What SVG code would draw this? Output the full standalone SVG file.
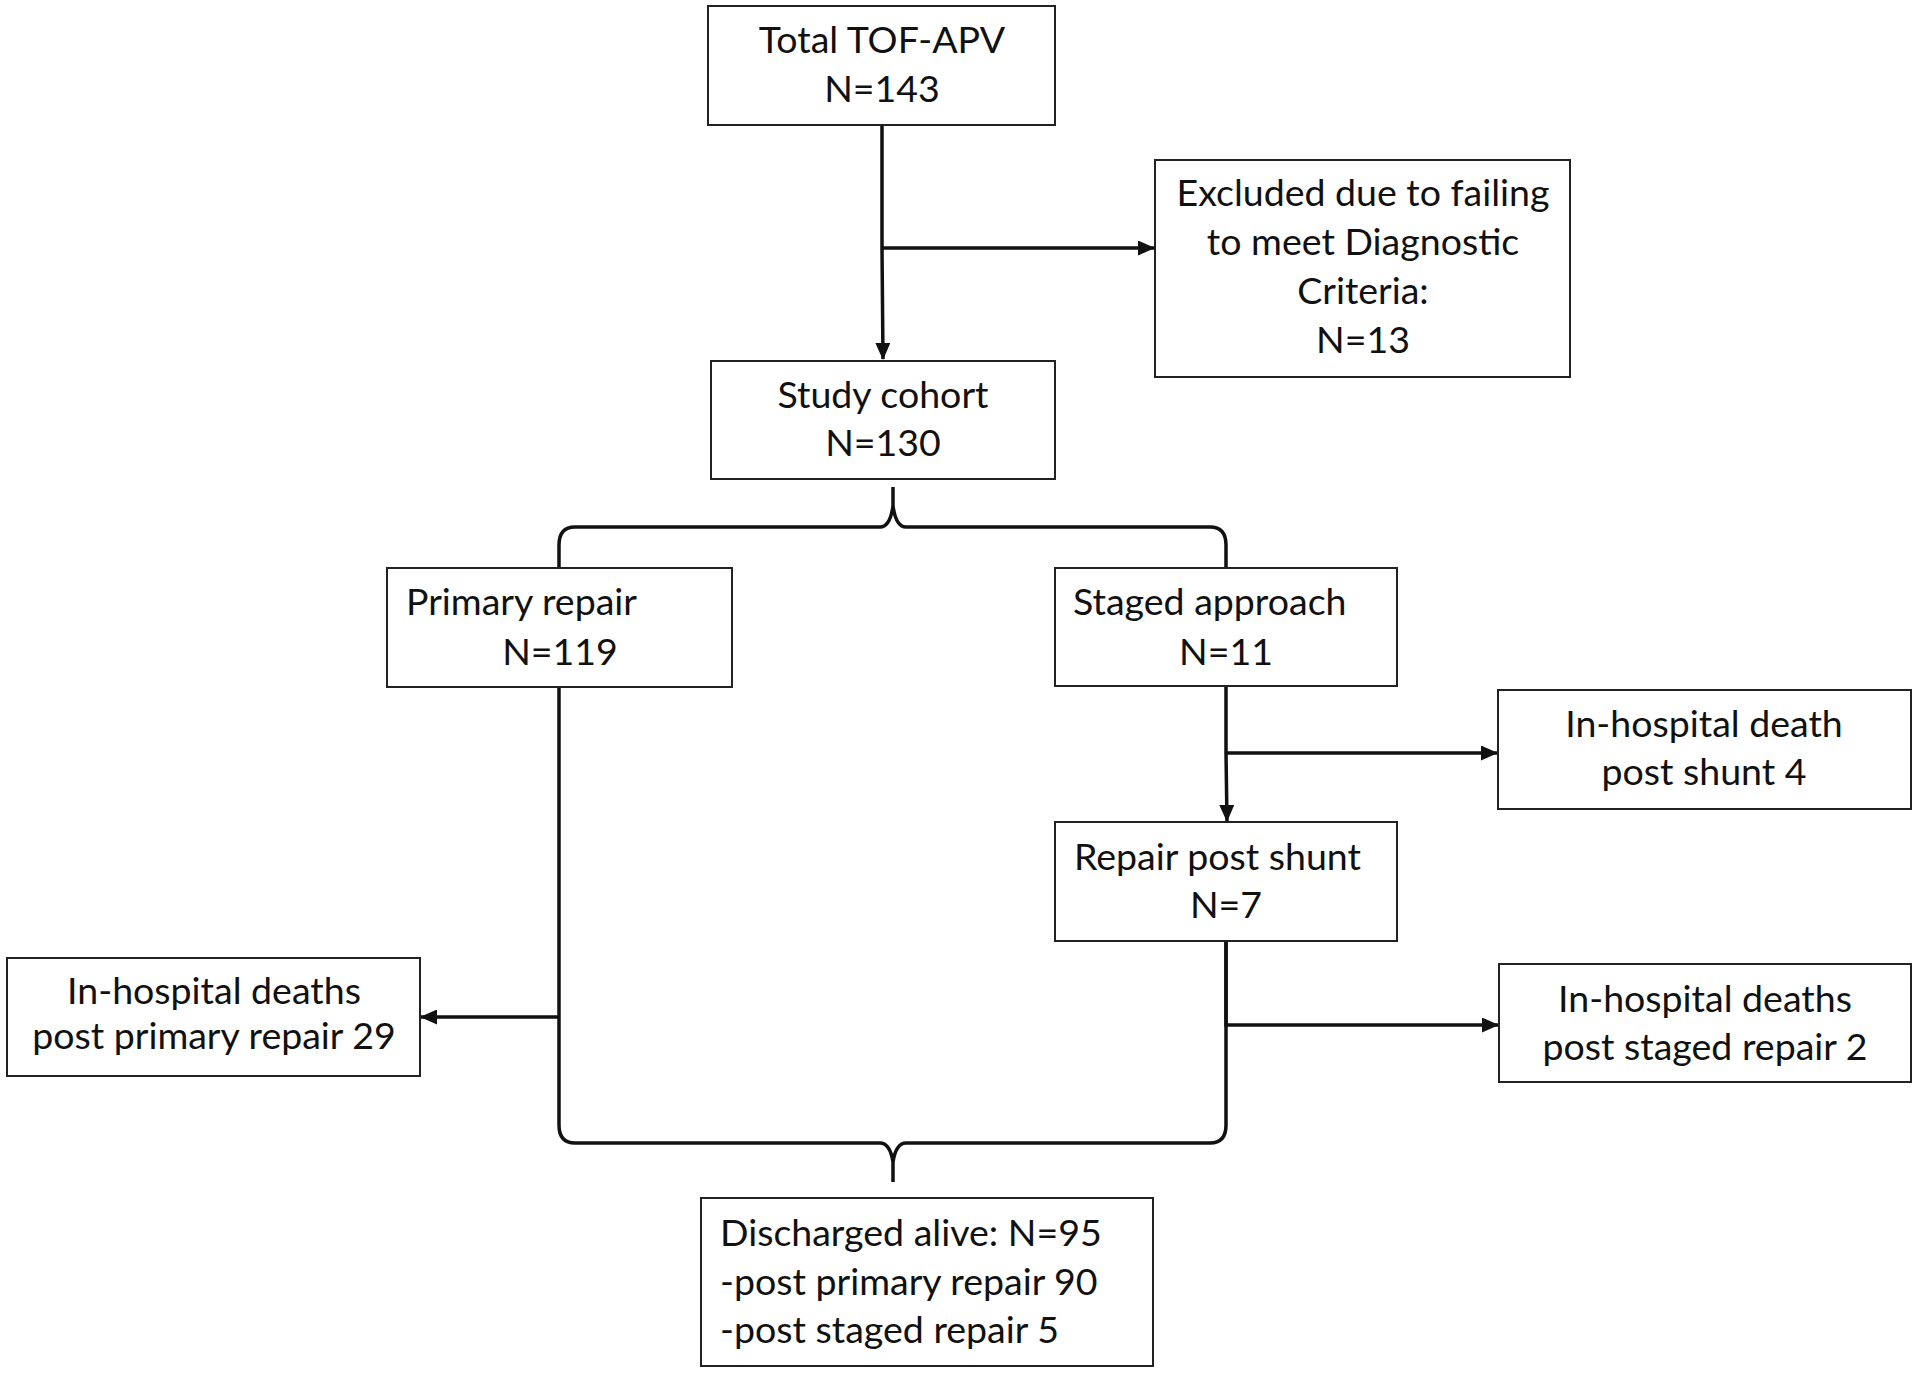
<svg xmlns="http://www.w3.org/2000/svg" width="1920" height="1374" viewBox="0 0 1920 1374">
<defs>
<style>
.box{fill:#fff;stroke:#222;stroke-width:2}
.t{font-family:Lato,"Liberation Sans",sans-serif;font-size:37.5px;fill:#111}
.c{text-anchor:middle}
.ln{fill:none;stroke:#111;stroke-width:3.5}
</style>
<marker id="ah" markerWidth="17" markerHeight="15" refX="16" refY="7.5" orient="auto" markerUnits="userSpaceOnUse">
<path d="M0,0 L17,7.5 L0,15 Z" fill="#111"/>
</marker>
</defs>
<rect width="1920" height="1374" fill="#fff"/>
<g id="connectors">
<path class="ln" d="M882,125 L882,248 L883,359" marker-end="url(#ah)"/>
<path class="ln" d="M882,248 L1154,248" marker-end="url(#ah)"/>
<path class="ln" d="M559,567 L559,545 Q559,527 575,527 L880,527 Q890,527 893,506 L893,487 M893,506 Q896,527 906,527 L1210,527 Q1226,527 1226,545 L1226,567"/>
<path class="ln" d="M1226,686 L1226,753 L1227,821" marker-end="url(#ah)"/>
<path class="ln" d="M1226,753 L1497,753" marker-end="url(#ah)"/>
<path class="ln" d="M1226,941 L1226,1025 L1498,1025" marker-end="url(#ah)"/>
<path class="ln" d="M559,1017 L421,1017" marker-end="url(#ah)"/>
<path class="ln" d="M559,687 L559,1125 Q559,1143 575,1143 L880,1143 Q890,1143 893,1162 L893,1182 M893,1162 Q896,1143 906,1143 L1210,1143 Q1226,1143 1226,1125 L1226,941"/>
</g>
<g id="total">
<rect class="box" x="708" y="6" width="347" height="119"/>
<text class="t c" x="882" y="53">Total TOF-APV</text>
<text class="t c" x="882" y="102">N=143</text>
</g>
<g id="excluded">
<rect class="box" x="1155" y="160" width="415" height="217"/>
<text class="t c" x="1363" y="206">Excluded due to failing</text>
<text class="t c" x="1363" y="255">to meet Diagnostic</text>
<text class="t c" x="1363" y="304">Criteria:</text>
<text class="t c" x="1363" y="353">N=13</text>
</g>
<g id="study">
<rect class="box" x="711" y="361" width="344" height="118"/>
<text class="t c" x="883" y="408">Study cohort</text>
<text class="t c" x="883" y="456">N=130</text>
</g>
<g id="primary">
<rect class="box" x="387" y="568" width="345" height="119"/>
<text class="t" x="406" y="615">Primary repair</text>
<text class="t c" x="560" y="665">N=119</text>
</g>
<g id="staged">
<rect class="box" x="1055" y="568" width="342" height="118"/>
<text class="t" x="1073" y="615">Staged approach</text>
<text class="t c" x="1226" y="665">N=11</text>
</g>
<g id="death-shunt">
<rect class="box" x="1498" y="690" width="413" height="119"/>
<text class="t c" x="1704" y="737">In-hospital death</text>
<text class="t c" x="1704" y="785">post shunt 4</text>
</g>
<g id="repair-shunt">
<rect class="box" x="1055" y="822" width="342" height="119"/>
<text class="t" x="1074" y="870">Repair post shunt</text>
<text class="t c" x="1226" y="918">N=7</text>
</g>
<g id="death-staged">
<rect class="box" x="1499" y="964" width="412" height="118"/>
<text class="t c" x="1705" y="1012">In-hospital deaths</text>
<text class="t c" x="1705" y="1060">post staged repair 2</text>
</g>
<g id="death-primary">
<rect class="box" x="7" y="958" width="413" height="118"/>
<text class="t c" x="214" y="1004">In-hospital deaths</text>
<text class="t c" x="214" y="1049">post primary repair 29</text>
</g>
<g id="discharged">
<rect class="box" x="701" y="1198" width="452" height="168"/>
<text class="t" x="720" y="1246">Discharged alive: N=95</text>
<text class="t" x="720" y="1295">-post primary repair 90</text>
<text class="t" x="720" y="1343">-post staged repair 5</text>
</g>
</svg>
